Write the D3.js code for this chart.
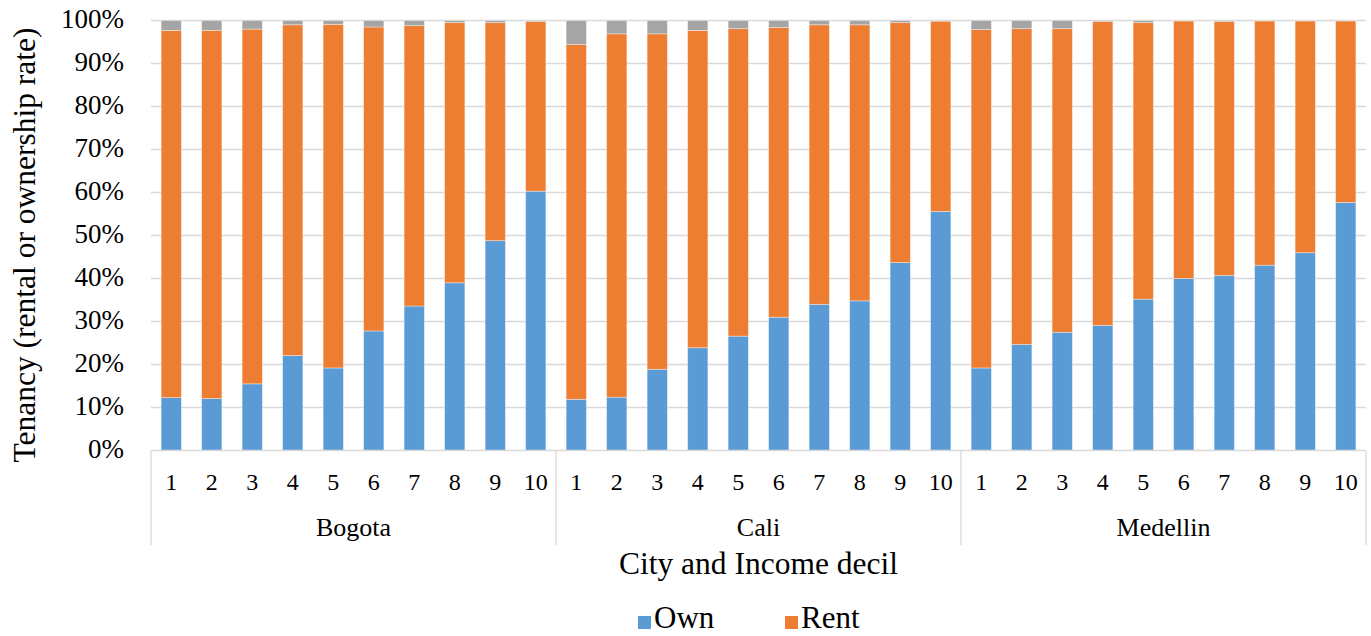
<!DOCTYPE html>
<html>
<head>
<meta charset="utf-8">
<script src="https://cdn.jsdelivr.net/npm/d3@7"></script>
<style>
  html, body { margin: 0; padding: 0; background: #fff; }
  svg { display: block; }
  svg text { font-family: "Liberation Serif", "Times New Roman", serif; fill: #000; }
</style>
</head>
<body>
<svg id="chart" width="1371" height="636"></svg>
<script>
const cities = ["Bogota", "Cali", "Medellin"];
const deciles = ["1","2","3","4","5","6","7","8","9","10"];
const ownBogota   = [12.3, 12.1, 15.5, 22.1, 19.2, 27.8, 33.6, 39.0, 48.8, 60.3];
const otherBogota = [2.3, 2.3, 2.0, 1.0, 0.9, 1.5, 1.2, 0.5, 0.5, 0.2];
const ownCali     = [11.9, 12.4, 18.9, 23.9, 26.6, 31.0, 34.0, 34.8, 43.7, 55.6];
const otherCali   = [5.6, 3.1, 3.1, 2.3, 1.9, 1.6, 1.0, 1.0, 0.5, 0.15];
const ownMedellin   = [19.2, 24.7, 27.5, 29.1, 35.2, 40.0, 40.7, 43.1, 46.0, 57.7];
const otherMedellin = [2.1, 1.9, 1.9, 0.2, 0.5, 0.1, 0.2, 0.1, 0.1, 0.1];
const yTicks = [0,10,20,30,40,50,60,70,80,90,100];
const seriesNames = ["Own", "Rent", "Other"];
const legendNames = ["Own", "Rent"];
const colors = {Own: "#5B9BD5", Rent: "#ED7D31", Other: "#A5A5A5"};

const ownByCity = [ownBogota, ownCali, ownMedellin];
const otherByCity = [otherBogota, otherCali, otherMedellin];
const rows = [];
cities.forEach((c, ci) => {
  deciles.forEach((d, di) => {
    const own = ownByCity[ci][di], other = otherByCity[ci][di];
    rows.push({key: c + "-" + d, city: c, decile: d, Own: own, Rent: 100 - own - other, Other: other});
  });
});

const svg = d3.select("#chart");
const W = 1371, H = 636;
const x0 = 151, x1 = 1366;
const yTop = 20.5, yBot = 450.5;

const x = d3.scaleBand().domain(rows.map(r => r.key)).range([x0, x1]).paddingInner(0.5).paddingOuter(0.25);
const y = d3.scaleLinear().domain([0, 100]).range([yBot, yTop]);

// gridlines
svg.append("g").selectAll("line").data(yTicks.slice(1)).join("line")
  .attr("x1", x0).attr("x2", x1)
  .attr("y1", d => y(d)).attr("y2", d => y(d))
  .attr("stroke", "#D9D9D9").attr("stroke-width", 1.3);

// y tick labels
svg.append("g").selectAll("text").data(yTicks).join("text")
  .attr("x", 124).attr("y", d => y(d) + 7.5)
  .attr("text-anchor", "end")
  .attr("font-size", 27)
  .text(d => d + "%");

// stacked bars
const stacked = d3.stack().keys(seriesNames)(rows);
svg.append("g").selectAll("g").data(stacked).join("g")
  .attr("fill", d => colors[d.key])
  .selectAll("rect").data(d => d).join("rect")
  .attr("x", d => x(d.data.key))
  .attr("width", x.bandwidth())
  .attr("y", d => y(d[1]))
  .attr("height", d => y(d[0]) - y(d[1]))
  .attr("stroke", "#fff").attr("stroke-opacity", 0.45).attr("stroke-width", 0.8);

// category axis line
svg.append("line").attr("x1", x0).attr("x2", x1).attr("y1", yBot).attr("y2", yBot)
  .attr("stroke", "#D9D9D9").attr("stroke-width", 1.3);

// group separators
const groupWidth = (x1 - x0) / cities.length;
const sepX = d3.range(cities.length + 1).map(i => x0 + i * groupWidth);
svg.append("g").selectAll("line").data(sepX).join("line")
  .attr("x1", d => d).attr("x2", d => d)
  .attr("y1", yBot).attr("y2", 545)
  .attr("stroke", "#D9D9D9").attr("stroke-width", 1.3);

// decile labels
svg.append("g").selectAll("text").data(rows).join("text")
  .attr("x", d => x(d.key) + x.bandwidth() / 2)
  .attr("y", 490).attr("text-anchor", "middle")
  .attr("font-size", 24)
  .text(d => d.decile);

// city labels
svg.append("g").selectAll("text").data(cities).join("text")
  .attr("x", (d, i) => x0 + (i + 0.5) * groupWidth)
  .attr("y", 536).attr("text-anchor", "middle")
  .attr("font-size", 26)
  .text(d => d);

// axis titles
svg.append("text")
  .attr("x", (x0 + x1) / 2).attr("y", 574)
  .attr("text-anchor", "middle").attr("font-size", 31.5)
  .text("City and Income decil");

svg.append("text")
  .attr("transform", "translate(35, 245) rotate(-90)")
  .attr("text-anchor", "middle").attr("font-size", 31.5)
  .text("Tenancy (rental or ownership rate)");

// legend
const legendX = [638, 785];
const lg = svg.append("g").selectAll("g").data(legendNames).join("g")
  .attr("transform", (d, i) => `translate(${legendX[i]}, 616)`);
lg.append("rect").attr("width", 13).attr("height", 13).attr("fill", d => colors[d]);
lg.append("text").attr("x", 16).attr("y", 12)
  .attr("font-size", 31).text(d => d);
</script>
</body>
</html>
